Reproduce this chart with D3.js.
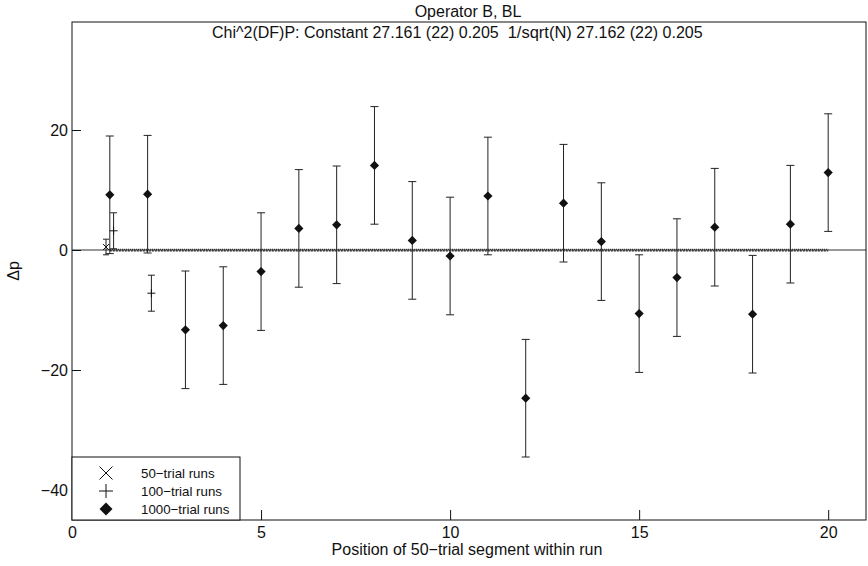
<!DOCTYPE html>
<html>
<head>
<meta charset="utf-8">
<script src="https://cdn.jsdelivr.net/npm/d3@7"></script>
<style>
  body { margin: 0; background: #fff; }
  svg { display: block; font-family: "Liberation Sans", Arial, sans-serif; }
</style>
</head>
<body>
<svg id="chart" width="868" height="566"></svg>
<script>
// 1000-trial runs, one point per 50-trial segment
const seg1000 = [1, 2, 3, 4, 5, 6, 7, 8, 9, 10, 11, 12, 13, 14, 15, 16, 17, 18, 19, 20];
const dp1000 = [9.2, 9.3, -13.3, -12.6, -3.6, 3.6, 4.2, 14.1, 1.6, -1.0, 9.0, -24.7, 7.8, 1.4, -10.6, -4.6, 3.8, -10.7, 4.3, 12.9];
const err1000 = [9.8, 9.8, 9.8, 9.8, 9.8, 9.8, 9.8, 9.8, 9.8, 9.8, 9.8, 9.8, 9.8, 9.8, 9.8, 9.8, 9.8, 9.8, 9.8, 9.8];

// 100-trial runs
const seg100 = [1.1, 2.1];
const dp100 = [3.2, -7.2];
const err100 = [3.0, 3.0];

// 50-trial runs
const seg50 = [0.9];
const dp50 = [0.5];
const err50 = [1.3];

// fit lines (constant and 1/sqrt(N)), nearly zero
const fitX = [1, 20];
const fitConst = [0, 0];
const fitSqrt = [0, 0];

const xTicks = [0, 5, 10, 15, 20];
const yTicks = [-40, -20, 0, 20];
const legendLabels = ['50\u2212trial runs', '100\u2212trial runs', '1000\u2212trial runs'];

const titleText = 'Operator B, BL';
const statsText = 'Chi^2(DF)P: Constant 27.161 (22) 0.205  ';
const statsText2 = '1/sqrt(N)';
const statsText3 = ' 27.162 (22) 0.205';

const svg = d3.select('#chart');
const mLeft = 72, mRight = 866, mTop = 22, mBottom = 520;

const x = d3.scaleLinear().domain([0, 21]).range([mLeft, mRight]);
const y = d3.scaleLinear().domain([-45, 38]).range([mBottom, mTop]);

const ink = '#111';
const fs = '16px';

// zero line across the whole axes
svg.append('line')
    .attr('x1', x(0)).attr('x2', x(21))
    .attr('y1', y(0)).attr('y2', y(0))
    .attr('stroke', '#333').attr('stroke-width', 1);

// dotted fit lines
const fitLine = vals => d3.line()
    .x((d, i) => x(fitX[i]))
    .y(d => y(d))(vals);
svg.append('path').attr('d', fitLine(fitConst))
    .attr('fill', 'none').attr('stroke', '#222')
    .attr('stroke-width', 1.2).attr('stroke-dasharray', '1,1')
    .attr('transform', 'translate(0,-0.6)');
svg.append('path').attr('d', fitLine(fitSqrt))
    .attr('fill', 'none').attr('stroke', '#222')
    .attr('stroke-width', 1.2).attr('stroke-dasharray', '2,1')
    .attr('transform', 'translate(0,0.8)');

// error bars helper
function errorBars(xs, vals, errs, capW) {
    const g = svg.append('g').attr('stroke', '#222').attr('stroke-width', 1).attr('fill', 'none');
    xs.forEach((xv, i) => {
        const cx = x(xv), hi = y(vals[i] + errs[i]), lo = y(vals[i] - errs[i]);
        g.append('line').attr('x1', cx).attr('x2', cx).attr('y1', hi).attr('y2', lo);
        g.append('line').attr('x1', cx - capW).attr('x2', cx + capW).attr('y1', hi).attr('y2', hi);
        g.append('line').attr('x1', cx - capW).attr('x2', cx + capW).attr('y1', lo).attr('y2', lo);
    });
}

errorBars(seg1000, dp1000, err1000, 4);
errorBars(seg100, dp100, err100, 3.5);
errorBars(seg50, dp50, err50, 3);

// markers
const diamond = s => `M0,${-s}L${s},0L0,${s}L${-s},0Z`;
const plus = s => `M${-s},0H${s}M0,${-s}V${s}`;
const cross = s => `M${-s},${-s}L${s},${s}M${-s},${s}L${s},${-s}`;

svg.append('g').selectAll('path')
    .data(seg1000)
    .join('path')
    .attr('transform', (d, i) => `translate(${x(d)},${y(dp1000[i])})`)
    .attr('d', diamond(4.6))
    .attr('fill', ink);

svg.append('g').selectAll('path')
    .data(seg100)
    .join('path')
    .attr('transform', (d, i) => `translate(${x(d)},${y(dp100[i])})`)
    .attr('d', plus(4))
    .attr('stroke', ink).attr('fill', 'none');

svg.append('g').selectAll('path')
    .data(seg50)
    .join('path')
    .attr('transform', (d, i) => `translate(${x(d)},${y(dp50[i])})`)
    .attr('d', cross(3))
    .attr('stroke', ink).attr('fill', 'none');

// axes
const xAxis = svg.append('g')
    .attr('transform', `translate(0,${mBottom})`)
    .call(d3.axisBottom(x).tickValues(xTicks).tickSizeInner(-10).tickSizeOuter(0).tickPadding(7));
const yAxis = svg.append('g')
    .attr('transform', `translate(${mLeft},0)`)
    .call(d3.axisLeft(y).tickValues(yTicks).tickSizeInner(-9).tickSizeOuter(0).tickPadding(4));
[xAxis, yAxis].forEach(a => {
    a.select('.domain').remove();
    a.selectAll('.tick line').attr('stroke', ink);
    a.selectAll('.tick text')
        .attr('fill', ink)
        .style('font-size', fs)
        .style('font-family', '"Liberation Sans", Arial, sans-serif');
});

// box
svg.append('rect')
    .attr('x', mLeft).attr('y', mTop)
    .attr('width', mRight - mLeft).attr('height', mBottom - mTop)
    .attr('fill', 'none').attr('stroke', ink).attr('stroke-width', 1);

// titles
svg.append('text')
    .attr('x', 468).attr('y', 17)
    .attr('text-anchor', 'middle')
    .style('font-size', fs).attr('fill', ink)
    .text(titleText);

const stats = svg.append('text')
    .attr('x', 212).attr('y', 38)
    .style('font-size', fs).style('white-space', 'pre').attr('fill', ink);
stats.append('tspan').text(statsText);
stats.append('tspan').style('font-size', '16.5px').text(statsText2);
stats.append('tspan').text(statsText3);

// axis labels
svg.append('text')
    .attr('x', 467).attr('y', 555)
    .attr('text-anchor', 'middle')
    .style('font-size', fs).attr('fill', ink)
    .text('Position of 50\u2212trial segment within run');

svg.append('text')
    .attr('transform', `translate(19,${(mTop + mBottom) / 2}) rotate(-90)`)
    .attr('text-anchor', 'middle')
    .style('font-size', fs).attr('fill', ink)
    .text('\u0394p');

// legend
const lg = svg.append('g');
lg.append('rect')
    .attr('x', mLeft).attr('y', 457)
    .attr('width', 168).attr('height', mBottom - 457)
    .attr('fill', '#fff').attr('stroke', ink).attr('stroke-width', 1);
const legendMarks = [cross(6.5), plus(7), diamond(6.5)];
legendLabels.forEach((lab, i) => {
    const ly = 473 + i * 18;
    lg.append('path')
        .attr('transform', `translate(106,${ly})`)
        .attr('d', legendMarks[i])
        .attr('fill', i === 2 ? ink : 'none')
        .attr('stroke', i === 2 ? 'none' : ink);
    lg.append('text')
        .attr('x', 141).attr('y', ly + 4.5)
        .style('font-size', '13.3px').attr('fill', ink)
        .text(lab);
});
</script>
</body>
</html>
